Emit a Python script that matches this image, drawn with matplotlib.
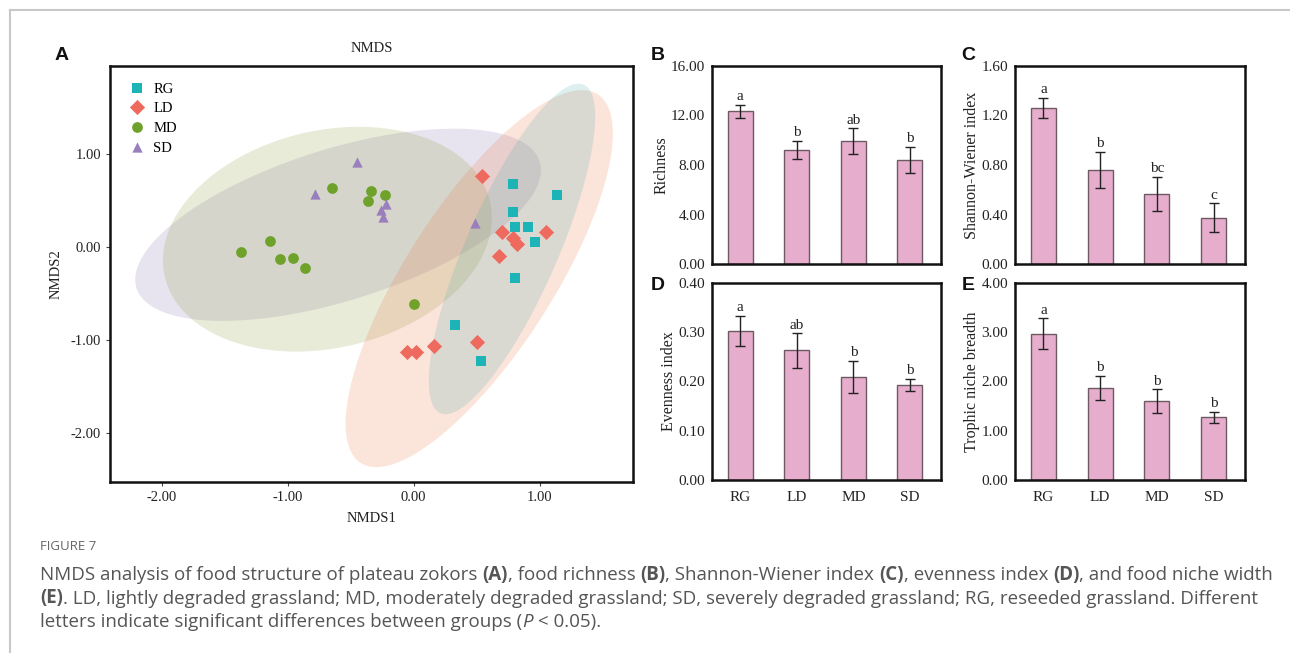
import numpy as np
import matplotlib
matplotlib.use("Agg")
import matplotlib.pyplot as plt

W, H = 1290, 653

# ---- NMDS scores ----
rg_x = [0.79, 1.14, 0.79, 0.80, 0.91, 0.96, 0.80, 0.33, 0.53]
rg_y = [0.68, 0.56, 0.38, 0.22, 0.22, 0.05, -0.33, -0.84, -1.23]
ld_x = [0.54, 0.70, 0.79, 0.82, 1.05, 0.68, 0.50, 0.16, -0.05, 0.02]
ld_y = [0.77, 0.16, 0.10, 0.03, 0.16, -0.10, -1.02, -1.07, -1.13, -1.13]
md_x = [-0.65, -0.34, -0.36, -0.23, -1.14, -1.37, -1.06, -0.96, -0.86, 0.00]
md_y = [0.64, 0.60, 0.50, 0.56, 0.07, -0.05, -0.13, -0.12, -0.22, -0.61]
sd_x = [-0.45, -0.78, -0.22, -0.26, -0.24, 0.49]
sd_y = [0.92, 0.57, 0.46, 0.40, 0.32, 0.26]

# confidence ellipses: centre x, centre y, half-width, half-height, correlation
ell_cx = {"RG": 0.78, "LD": 0.52, "MD": -0.685, "SD": -0.60}
ell_cy = {"RG": -0.02, "LD": -0.34, "MD": 0.085, "SD": 0.24}
ell_hx = {"RG": 0.66, "LD": 1.06, "MD": 1.305, "SD": 1.61}
ell_hy = {"RG": 1.78, "LD": 2.03, "MD": 1.21, "SD": 1.035}
ell_r = {"RG": 0.80, "LD": 0.77, "MD": 0.19, "SD": 0.57}

groups = ["RG", "LD", "MD", "SD"]
colors = {"RG": "#1db4b8", "LD": "#ee6a5f", "MD": "#6ea22b", "SD": "#9a7fbd"}
fill_colors = {"RG": "#55afaf", "LD": "#eb7846", "MD": "#8a9d3d", "SD": "#8c78af"}
markers = {"RG": "s", "LD": "D", "MD": "o", "SD": "^"}
msize = {"RG": 55, "LD": 60, "MD": 60, "SD": 55}
pts = {"RG": (rg_x, rg_y), "LD": (ld_x, ld_y), "MD": (md_x, md_y), "SD": (sd_x, sd_y)}

# ---- diversity indices ----
richness = [12.33, 9.20, 9.90, 8.39]
richness_err = [0.55, 0.75, 1.05, 1.06]
richness_sig = ["a", "b", "ab", "b"]
shannon = [1.263, 0.761, 0.567, 0.375]
shannon_err = [0.08, 0.145, 0.137, 0.115]
shannon_sig = ["a", "b", "bc", "c"]
evenness = [0.303, 0.263, 0.209, 0.193]
evenness_err = [0.031, 0.035, 0.033, 0.013]
evenness_sig = ["a", "ab", "b", "b"]
niche = [2.97, 1.87, 1.60, 1.27]
niche_err = [0.31, 0.245, 0.24, 0.11]
niche_sig = ["a", "b", "b", "b"]

plt.rcParams["font.family"] = "Liberation Serif"
fig = plt.figure(figsize=(W / 100, H / 100), dpi=100)


def px_axes(l, t, r, b):
    return fig.add_axes([l / W, 1 - b / H, (r - l) / W, (b - t) / H])


def style_spines(ax):
    for s in ax.spines.values():
        s.set_linewidth(1.8)
        s.set_color("#111111")


# frame lines of the page
fig.add_artist(plt.Line2D([10 / W, 1], [1 - 10 / H, 1 - 10 / H], color="#c8c8c8", lw=1.5))
fig.add_artist(plt.Line2D([10 / W, 10 / W], [0, 1 - 10 / H], color="#c8c8c8", lw=1.5))

# ---- panel A ----
ax = px_axes(110, 66, 633, 482)
t = np.linspace(0, 2 * np.pi, 200)
for g in ["SD", "MD", "LD", "RG"]:
    r = ell_r[g]
    ex = ell_cx[g] + ell_hx[g] * np.cos(t)
    ey = ell_cy[g] + ell_hy[g] * (r * np.cos(t) + np.sqrt(1 - r ** 2) * np.sin(t))
    ax.fill(ex, ey, color=fill_colors[g], alpha=0.2, lw=0)
for g in groups:
    x, y = pts[g]
    ax.scatter(x, y, s=msize[g], marker=markers[g], color=colors[g], lw=0, label=g, zorder=3)
ax.set_xlim(-2.41, 1.74)
ax.set_ylim(-2.53, 1.95)
ax.set_xticks([-2, -1, 0, 1])
ax.set_yticks([-2, -1, 0, 1])
ax.xaxis.set_major_formatter(matplotlib.ticker.FormatStrFormatter("%.2f"))
ax.yaxis.set_major_formatter(matplotlib.ticker.FormatStrFormatter("%.2f"))
ax.tick_params(length=3, width=0.8, color="#444444", labelsize=10.5, labelcolor="#222222")
ax.set_title("NMDS", fontsize=10.5, pad=10, color="#222222")
ax.set_xlabel("NMDS1", fontsize=10.5, labelpad=6, color="#222222")
ax.set_ylabel("NMDS2", fontsize=10.5, labelpad=6, color="#222222")
style_spines(ax)
ax.legend(loc="upper left", bbox_to_anchor=(0.005, 0.985), frameon=False, fontsize=10.5,
          handletextpad=0.1, labelspacing=0.45, borderaxespad=0.3, scatteryoffsets=[0.5])

# ---- bar panels ----
cats = ["RG", "LD", "MD", "SD"]
bar_panels = [
    ((712, 66, 941, 264), richness, richness_err, richness_sig, "Richness", 16, 4, False),
    ((1015, 66, 1245, 264), shannon, shannon_err, shannon_sig, "Shannon-Wiener index", 1.6, 0.4, False),
    ((712, 283, 941, 480), evenness, evenness_err, evenness_sig, "Evenness index", 0.4, 0.1, True),
    ((1015, 283, 1245, 480), niche, niche_err, niche_sig, "Trophic niche breadth", 4, 1, True),
]
for box, vals, errs, sig, ylab, ymax, step, show_x in bar_panels:
    bx = px_axes(*box)
    xs = np.arange(len(cats))
    bx.bar(xs, vals, width=0.44, color="#e6adcc", edgecolor="#6e5a63", lw=1.0, zorder=2)
    bx.errorbar(xs, vals, yerr=errs, fmt="none", ecolor="#222222", elinewidth=1.0,
                capsize=3.5, capthick=1.0, zorder=3)
    for xi, v, e, s in zip(xs, vals, errs, sig):
        bx.text(xi, v + e + ymax * 0.008, s, ha="center", va="bottom", fontsize=11, color="#222222")
    bx.set_xlim(-0.5, 3.55)
    bx.set_ylim(0, ymax)
    bx.set_yticks(np.arange(0, ymax + step / 2, step))
    bx.yaxis.set_major_formatter(matplotlib.ticker.FormatStrFormatter("%.2f"))
    bx.set_xticks(xs)
    if show_x:
        bx.set_xticklabels(cats)
    else:
        bx.set_xticklabels([])
    bx.tick_params(length=0, labelsize=11, labelcolor="#222222", pad=5)
    bx.tick_params(axis="x", pad=8)
    bx.set_ylabel(ylab, fontsize=11.5, labelpad=1, color="#222222")
    style_spines(bx)

# panel letters
for lab, x, y in [("A", 62, 55), ("B", 658, 55), ("C", 968, 55), ("D", 658, 286), ("E", 968, 286)]:
    fig.text(x / W, 1 - y / H, lab, fontsize=14, fontweight="bold", family="Liberation Sans",
             ha="center", va="center", color="#111111")

# ---- caption ----
cap_font = "Open Sans"
cap_col = "#555555"
fig.text(40 / W, 1 - 547 / H, "FIGURE 7", fontsize=9.5, family=cap_font, color="#666666", va="center")

lines = [
    [("NMDS analysis of food structure of plateau zokors ", "normal", "normal"), ("(A)", "bold", "normal"),
     (", food richness ", "normal", "normal"), ("(B)", "bold", "normal"),
     (", Shannon-Wiener index ", "normal", "normal"), ("(C)", "bold", "normal"),
     (", evenness index ", "normal", "normal"), ("(D)", "bold", "normal"),
     (", and food niche width", "normal", "normal")],
    [("(E)", "bold", "normal"),
     (". LD, lightly degraded grassland; MD, moderately degraded grassland; SD, severely degraded grassland; RG, reseeded grassland. Different",
      "normal", "normal")],
    [("letters indicate significant differences between groups (", "normal", "normal"), ("P", "normal", "italic"),
     (" < 0.05).", "normal", "normal")],
]
renderer = fig.canvas.get_renderer()
for i, segs in enumerate(lines):
    x = 40
    y = 575 + i * 23.5
    for txt, wt, st in segs:
        tt = fig.text(x / W, 1 - y / H, txt, fontsize=13.5, family=cap_font, fontweight=wt,
                      style=st, color=cap_col, va="center")
        bb = tt.get_window_extent(renderer)
        x += bb.width

fig.savefig("out.png", dpi=100)
